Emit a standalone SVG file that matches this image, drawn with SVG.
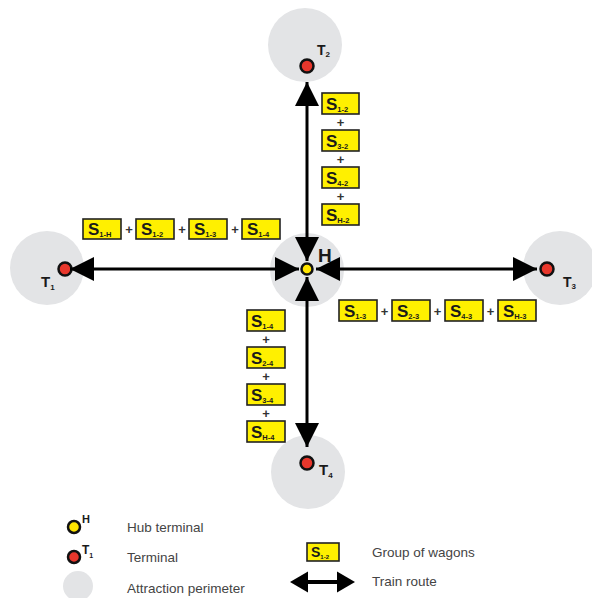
<svg xmlns="http://www.w3.org/2000/svg" width="592" height="598" viewBox="0 0 592 598">
<style>
.per{fill:#E3E4E6}
.dr{fill:#E8372C;stroke:#111;stroke-width:2.5}
.dy{fill:#FFE500;stroke:#111;stroke-width:2.5}
.box{fill:#FFF000;stroke:#222;stroke-width:1.6}
.bs{font-family:"Liberation Sans",Arial,sans-serif;font-weight:bold;font-size:17px;fill:#1a1a1a}
.sb{font-size:7.5px}
.pl{font-family:"Liberation Sans",Arial,sans-serif;font-weight:bold;font-size:13px;fill:#333;text-anchor:middle}
.tl{font-family:"Liberation Sans",Arial,sans-serif;font-weight:bold;font-size:15px;fill:#1a1a1a}
.ts{font-size:8px}
.lg{font-family:"Liberation Sans",Arial,sans-serif;font-size:13.5px;fill:#444}
.route{stroke:#000;stroke-width:3;fill:none;marker-start:url(#ah);marker-end:url(#ah)}
</style>
<defs>
<marker id="ah" viewBox="0 0 24 24" refX="24" refY="12" markerWidth="24" markerHeight="24" markerUnits="userSpaceOnUse" orient="auto-start-reverse"><path d="M0,0 L24,12 L0,24 z" fill="#000"/></marker>
</defs>
<rect width="592" height="598" fill="#fff"/>

<g id="node-T1"><circle class="per" cx="47" cy="268" r="37"/><circle class="dr" cx="65" cy="269" r="6.5"/><text class="tl" x="41" y="287">T<tspan class="ts" dy="3">1</tspan></text></g>
<g id="node-T2"><circle class="per" cx="305" cy="45" r="37"/><circle class="dr" cx="307" cy="66" r="6.5"/><text class="tl" x="317" y="55" style="font-size:14px">T<tspan class="ts" dy="2">2</tspan></text></g>
<g id="node-T3"><circle class="per" cx="560" cy="268" r="37"/><circle class="dr" cx="547" cy="269" r="6.5"/><text class="tl" x="563" y="287" style="font-size:14px">T<tspan class="ts" dy="2">3</tspan></text></g>
<g id="node-T4"><circle class="per" cx="308" cy="472" r="37"/><circle class="dr" cx="307" cy="463" r="6.5"/><text class="tl" x="319" y="475">T<tspan class="ts" dy="3">4</tspan></text></g>
<g id="node-H"><circle class="per" cx="307" cy="270" r="37"/><circle class="dy" cx="307" cy="269" r="5.5"/><text class="tl" x="318" y="262" style="font-size:19px">H</text></g>

<g id="connectors">
<line class="route" x1="307" y1="82" x2="307" y2="261"/>
<line class="route" x1="307" y1="277" x2="307" y2="447"/>
<line class="route" x1="70" y1="269" x2="299" y2="269"/>
<line class="route" x1="316" y1="269" x2="537" y2="269"/>
</g>

<g id="wagons-T1-H">
<rect class="box" x="83" y="219" width="38" height="20"/><text class="bs" x="88" y="235">S<tspan class="sb" dy="2">1-H</tspan></text>
<text class="pl" x="129" y="234">+</text>
<rect class="box" x="136" y="219" width="38" height="20"/><text class="bs" x="141" y="235">S<tspan class="sb" dy="2">1-2</tspan></text>
<text class="pl" x="182" y="234">+</text>
<rect class="box" x="189" y="219" width="38" height="20"/><text class="bs" x="194" y="235">S<tspan class="sb" dy="2">1-3</tspan></text>
<text class="pl" x="235" y="234">+</text>
<rect class="box" x="242" y="219" width="38" height="20"/><text class="bs" x="247" y="235">S<tspan class="sb" dy="2">1-4</tspan></text>
</g>

<g id="wagons-T2">
<rect class="box" x="322" y="93" width="37" height="21"/><text class="bs" x="326" y="110">S<tspan class="sb" dy="2">1-2</tspan></text>
<text class="pl" x="340.5" y="127">+</text>
<rect class="box" x="322" y="130" width="37" height="21"/><text class="bs" x="326" y="147">S<tspan class="sb" dy="2">3-2</tspan></text>
<text class="pl" x="340.5" y="164">+</text>
<rect class="box" x="322" y="167" width="37" height="21"/><text class="bs" x="326" y="184">S<tspan class="sb" dy="2">4-2</tspan></text>
<text class="pl" x="340.5" y="201">+</text>
<rect class="box" x="322" y="204" width="37" height="21"/><text class="bs" x="326" y="221">S<tspan class="sb" dy="2">H-2</tspan></text>
</g>

<g id="wagons-T3">
<rect class="box" x="339" y="300" width="38" height="21"/><text class="bs" x="344" y="317">S<tspan class="sb" dy="2">1-3</tspan></text>
<text class="pl" x="384.5" y="316">+</text>
<rect class="box" x="392" y="300" width="38" height="21"/><text class="bs" x="397" y="317">S<tspan class="sb" dy="2">2-3</tspan></text>
<text class="pl" x="437.5" y="316">+</text>
<rect class="box" x="445" y="300" width="38" height="21"/><text class="bs" x="450" y="317">S<tspan class="sb" dy="2">4-3</tspan></text>
<text class="pl" x="490.5" y="316">+</text>
<rect class="box" x="498" y="300" width="38" height="21"/><text class="bs" x="503" y="317">S<tspan class="sb" dy="2">H-3</tspan></text>
</g>

<g id="wagons-T4">
<rect class="box" x="247" y="310" width="38" height="21"/><text class="bs" x="251" y="327">S<tspan class="sb" dy="2">1-4</tspan></text>
<text class="pl" x="266" y="344">+</text>
<rect class="box" x="247" y="347" width="38" height="21"/><text class="bs" x="251" y="364">S<tspan class="sb" dy="2">2-4</tspan></text>
<text class="pl" x="266" y="381">+</text>
<rect class="box" x="247" y="384" width="38" height="21"/><text class="bs" x="251" y="401">S<tspan class="sb" dy="2">3-4</tspan></text>
<text class="pl" x="266" y="418">+</text>
<rect class="box" x="247" y="421" width="38" height="21"/><text class="bs" x="251" y="438">S<tspan class="sb" dy="2">H-4</tspan></text>
</g>

<g id="legend">
<circle class="dy" cx="74" cy="527" r="6"/><text class="tl" x="82" y="523" style="font-size:11px">H</text>
<text class="lg" x="127" y="532">Hub terminal</text>
<circle class="dr" cx="74" cy="557" r="6"/><text class="tl" x="82" y="554" style="font-size:12px">T<tspan class="ts" dy="4" style="font-size:7px">1</tspan></text>
<text class="lg" x="127" y="562">Terminal</text>
<circle class="per" cx="78" cy="586" r="15"/>
<text class="lg" x="127" y="593">Attraction perimeter</text>
<rect class="box" x="307" y="543" width="32" height="18"/><text class="bs" x="311" y="557" style="font-size:14px">S<tspan class="sb" dy="2" style="font-size:6px">1-2</tspan></text>
<text class="lg" x="372" y="557">Group of wagons</text>
<line x1="305" y1="582" x2="340" y2="582" stroke="#000" stroke-width="4"/>
<polygon points="290,582 308,571.5 308,592.5" fill="#000"/>
<polygon points="355,582 337,571.5 337,592.5" fill="#000"/>
<text class="lg" x="372" y="586">Train route</text>
</g>
</svg>
